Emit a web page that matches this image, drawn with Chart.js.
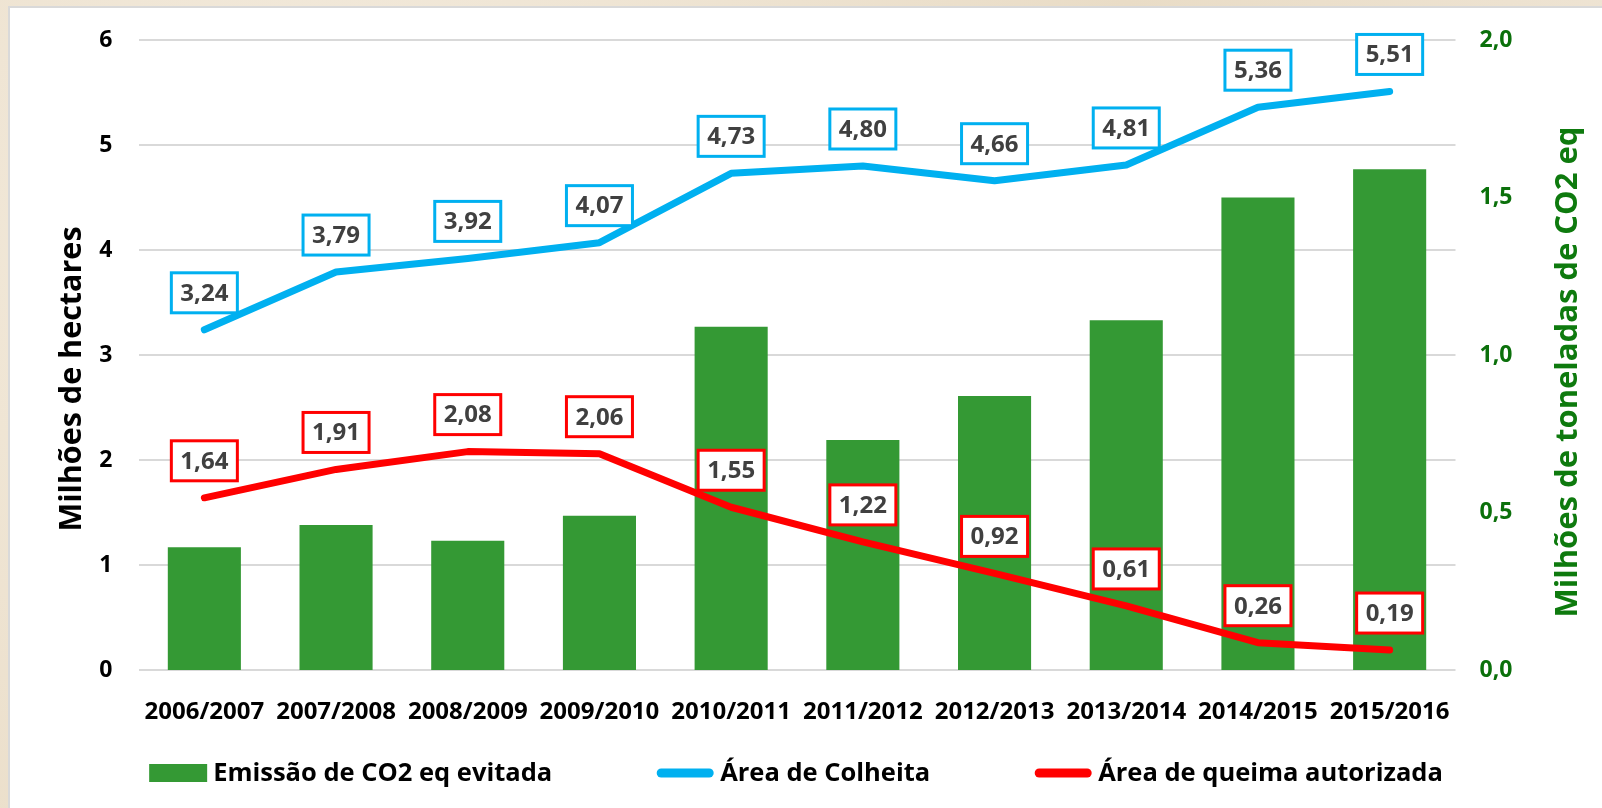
<!DOCTYPE html>
<html>
<head>
<meta charset="utf-8">
<script src="https://cdn.jsdelivr.net/npm/chart.js@4.4.1/dist/chart.umd.min.js"></script>
<style>
    html, body { margin: 0; padding: 0; }
    body {
        width: 1602px; height: 808px; overflow: hidden;
        background: #eee4d3;
        background-image: radial-gradient(circle at 20% 30%, #f4ecdf 0, #e9dcc6 60%, #efe5d5 100%);
    }
    #panel {
        position: absolute; left: 8px; top: 6px; right: 0; bottom: 0;
        background: #fff; border-left: 2px solid #d9d9d9; border-top: 2px solid #d9d9d9;
    }
    #wrap { position: absolute; left: 0; top: 0; width: 1602px; height: 808px; }
</style>
</head>
<body>
<div id="panel"></div>
<div id="wrap"><canvas id="chart"></canvas></div>
<script>
    // dados
    var safras = ["2006/2007", "2007/2008", "2008/2009", "2009/2010", "2010/2011",
                  "2011/2012", "2012/2013", "2013/2014", "2014/2015", "2015/2016"];
    var emissaoEvitada = [0.39, 0.46, 0.41, 0.49, 1.09, 0.73, 0.87, 1.11, 1.50, 1.59]; // milhoes t CO2 eq
    var areaColheita = [3.24, 3.79, 3.92, 4.07, 4.73, 4.80, 4.66, 4.81, 5.36, 5.51];   // milhoes ha
    var areaQueima = [1.64, 1.91, 2.08, 2.06, 1.55, 1.22, 0.92, 0.61, 0.26, 0.19];     // milhoes ha

    var nomes = ["Emissão de CO2 eq evitada", "Área de Colheita", "Área de queima autorizada"];
    var tituloEsq = "Milhões de hectares";
    var tituloDir = "Milhões de toneladas de CO2 eq";
    var eixoEsq = { min: 0, max: 6, passo: 1 };
    var eixoDir = { min: 0, max: 2, passo: 0.5 };

    var VERDE = "#349934", AZUL = "#00B0F0", VERMELHO = "#FF0000";
    var VERDE_TXT = "#0b700b";
    var FONTE = '"Open Sans", "Noto Sans", sans-serif';

    function virgula(v, casas) {
        return Number(v).toFixed(casas).replace(".", ",");
    }

    // caixas com os valores das linhas
    var rotulosCaixa = {
        id: "rotulosCaixa",
        afterDatasetsDraw: function (chart) {
            var ctx = chart.ctx;
            chart.data.datasets.forEach(function (ds, i) {
                if (ds.type !== "line") return;
                var meta = chart.getDatasetMeta(i);
                ctx.save();
                ctx.font = "bold 24px " + FONTE;
                ctx.textAlign = "center";
                ctx.textBaseline = "middle";
                meta.data.forEach(function (pt, j) {
                    var txt = virgula(ds.data[j], 2);
                    var w = ctx.measureText(txt).width + 18, h = 40;
                    var cx = pt.x, cy = pt.y - 37;
                    ctx.fillStyle = "#fff";
                    ctx.fillRect(cx - w / 2, cy - h / 2, w, h);
                    ctx.lineWidth = 3;
                    ctx.strokeStyle = ds.borderColor;
                    ctx.strokeRect(cx - w / 2, cy - h / 2, w, h);
                    ctx.fillStyle = "#404040";
                    ctx.fillText(txt, cx, cy + 1);
                });
                ctx.restore();
            });
        }
    };

    // titulos dos eixos e legenda
    var extras = {
        id: "extras",
        afterDraw: function (chart) {
            var ctx = chart.ctx;
            var area = chart.chartArea;
            var meio = area.top + (area.bottom - area.top) / 2;
            ctx.save();
            ctx.font = "bold 30.5px " + FONTE;
            ctx.textAlign = "center";
            ctx.textBaseline = "middle";
            ctx.fillStyle = "#000";
            ctx.translate(72, meio + 24);
            ctx.rotate(-Math.PI / 2);
            ctx.fillText(tituloEsq, 0, 0);
            ctx.restore();

            ctx.save();
            ctx.font = "bold 31px " + FONTE;
            ctx.textAlign = "center";
            ctx.textBaseline = "middle";
            ctx.fillStyle = "#0e7a0e";
            ctx.translate(1568, meio + 17);
            ctx.rotate(-Math.PI / 2);
            ctx.fillText(tituloDir, 0, 0);
            ctx.restore();

            // legenda
            ctx.save();
            ctx.font = "bold 25.5px " + FONTE;
            ctx.textBaseline = "middle";
            ctx.textAlign = "left";
            var marca = 58, folga = 6, espaco = 104, y = 773;
            var larguras = nomes.map(function (n) { return marca + folga + ctx.measureText(n).width; });
            var total = larguras.reduce(function (a, b) { return a + b; }, 0) + espaco * (nomes.length - 1);
            var x = 796 - total / 2;
            chart.data.datasets.forEach(function (ds, i) {
                if (ds.type === "bar") {
                    ctx.fillStyle = ds.backgroundColor;
                    ctx.fillRect(x, y - 9, marca, 18);
                } else {
                    ctx.strokeStyle = ds.borderColor;
                    ctx.lineWidth = 9;
                    ctx.lineCap = "round";
                    ctx.beginPath();
                    ctx.moveTo(x + 5, y);
                    ctx.lineTo(x + marca - 5, y);
                    ctx.stroke();
                }
                ctx.fillStyle = "#000";
                ctx.fillText(ds.label, x + marca + folga, y + 1);
                x += larguras[i] + espaco;
            });
            ctx.restore();
        }
    };

    var ctx1 = document.getElementById("chart");

    var grafico = new Chart(ctx1, {
        data: {
            labels: safras,
            datasets: [
                {
                    type: "bar",
                    label: nomes[0],
                    data: emissaoEvitada,
                    yAxisID: "y1",
                    backgroundColor: VERDE,
                    barPercentage: 0.555,
                    categoryPercentage: 1,
                    order: 2
                },
                {
                    type: "line",
                    label: nomes[1],
                    data: areaColheita,
                    yAxisID: "y",
                    borderColor: AZUL,
                    backgroundColor: AZUL,
                    borderWidth: 7,
                    borderCapStyle: "round",
                    borderJoinStyle: "round",
                    pointRadius: 0,
                    tension: 0,
                    order: 0
                },
                {
                    type: "line",
                    label: nomes[2],
                    data: areaQueima,
                    yAxisID: "y",
                    borderColor: VERMELHO,
                    backgroundColor: VERMELHO,
                    borderWidth: 7,
                    borderCapStyle: "round",
                    borderJoinStyle: "round",
                    pointRadius: 0,
                    tension: 0,
                    order: 1
                }
            ]
        },
        options: {
            responsive: true,
            maintainAspectRatio: false,
            animation: false,
            layout: { padding: { top: 40, bottom: 78, left: 0, right: 0 } },
            plugins: {
                legend: { display: false },
                tooltip: { enabled: false }
            },
            scales: {
                x: {
                    grid: { display: false },
                    border: { display: false },
                    ticks: {
                        color: "#000",
                        font: { family: FONTE, size: 24, weight: "bold" },
                        padding: 20,
                        maxRotation: 0,
                        autoSkip: false
                    },
                    afterFit: function (scale) { scale.height = 60; }
                },
                y: {
                    position: "left",
                    min: eixoEsq.min,
                    max: eixoEsq.max,
                    grid: { color: "#d9d9d9", lineWidth: 2, drawTicks: false },
                    border: { display: false },
                    ticks: {
                        stepSize: eixoEsq.passo,
                        color: "#000",
                        font: { family: FONTE, size: 23, weight: "bold" },
                        padding: 26
                    },
                    afterFit: function (scale) { scale.width = 138.5; }
                },
                y1: {
                    position: "right",
                    min: eixoDir.min,
                    max: eixoDir.max,
                    grid: { display: false, drawTicks: false },
                    border: { display: false },
                    ticks: {
                        stepSize: eixoDir.passo,
                        color: VERDE_TXT,
                        font: { family: FONTE, size: 23, weight: "bold" },
                        padding: 24,
                        callback: function (v) { return virgula(v, 1); }
                    },
                    afterFit: function (scale) { scale.width = 146.5; }
                }
            }
        },
        plugins: [rotulosCaixa, extras]
    });
</script>
</body>
</html>
